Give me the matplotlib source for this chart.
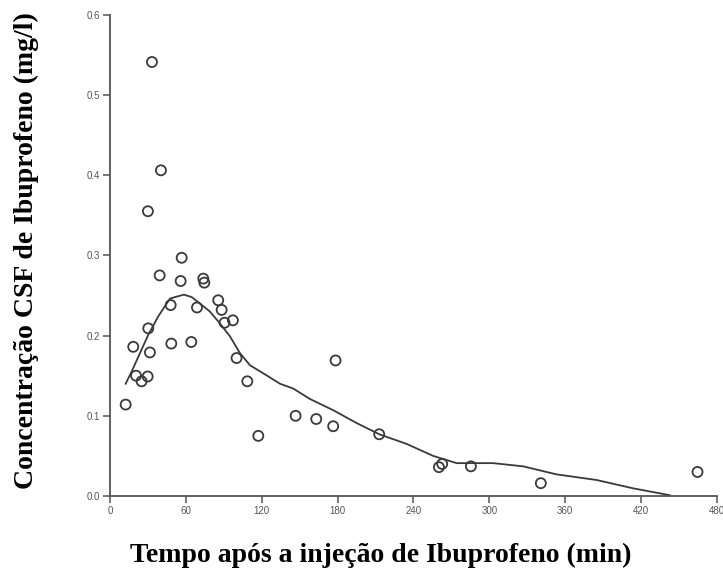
import matplotlib
matplotlib.use("Agg")
import matplotlib.pyplot as plt

# Observed CSF ibuprofen concentrations
time_min = [12.4, 18.4, 20.6, 25.0, 29.8, 30.3, 31.6, 39.3, 48.0, 48.5,
            55.9, 56.7, 64.3, 68.8, 73.8, 74.6, 85.6, 88.3, 90.6, 97.2,
            100.1, 108.6, 117.3, 146.8, 33.2, 40.3, 30.0, 163.1, 176.5,
            178.4, 212.9, 260.1, 262.7, 285.4, 340.7, 464.6]
conc_mg_l = [0.114, 0.186, 0.150, 0.143, 0.149, 0.209, 0.179, 0.275, 0.238, 0.190,
             0.268, 0.297, 0.192, 0.235, 0.271, 0.266, 0.244, 0.232, 0.216, 0.219,
             0.172, 0.143, 0.075, 0.100, 0.541, 0.406, 0.355, 0.096, 0.087,
             0.169, 0.077, 0.036, 0.040, 0.037, 0.016, 0.030]

# Smoothed trend
trend_time = [12.4, 17.1, 23.7, 30.3, 38.2, 47.4, 51.4, 58.5, 64.6, 71.1,
              79.0, 87.0, 94.9, 102.8, 110.7, 121.2, 134.4, 144.9, 158.1,
              176.5, 195.0, 212.9, 234.5, 255.6, 274.1, 303.0, 326.7, 353.1,
              384.7, 413.7, 442.7]
trend_conc = [0.140, 0.155, 0.178, 0.201, 0.224, 0.246, 0.248, 0.251, 0.248, 0.240,
              0.230, 0.215, 0.199, 0.178, 0.163, 0.153, 0.140, 0.134, 0.121,
              0.107, 0.091, 0.077, 0.065, 0.050, 0.041, 0.041, 0.037, 0.027,
              0.020, 0.0096, 0.001]

x_ticks = [0, 60, 120, 180, 240, 300, 360, 420, 480]
y_ticks = [0.0, 0.1, 0.2, 0.3, 0.4, 0.5, 0.6]

fig = plt.figure(figsize=(7.23, 5.71), dpi=100)
ax = fig.add_axes([0.1521, 0.1313, 0.8396, 0.8430])

ink = "#3a3a3a"
ax.plot(trend_time, trend_conc, color=ink, lw=1.3, zorder=2)
ax.scatter(time_min, conc_mg_l, s=52, facecolors="none", edgecolors=ink,
           linewidths=1.3, zorder=3, clip_on=False)

ax.set_xlim(0, 480)
ax.set_ylim(0, 0.6)
ax.set_xticks(x_ticks)
ax.set_yticks(y_ticks)
ax.set_xticklabels([str(t) for t in x_ticks])
ax.set_yticklabels([f"{v:.1f}" for v in y_ticks])

for side in ("top", "right"):
    ax.spines[side].set_visible(False)
for side in ("left", "bottom"):
    ax.spines[side].set_color("#555555")
    ax.spines[side].set_linewidth(1.3)

ax.tick_params(direction="out", length=5, width=1.1, color="#555555",
               labelsize=7, labelcolor="#555555", pad=2)
for lbl in ax.get_xticklabels() + ax.get_yticklabels():
    lbl.set_family("Liberation Sans")

serif = ["Liberation Serif", "DejaVu Serif"]
fig.text(0.527, 0.049, "Tempo após a injeção de Ibuprofeno (min)",
         ha="center", va="top", fontsize=20, fontweight="bold",
         family=serif)
fig.text(0.037, 0.562, "Concentração CSF de Ibuprofeno (mg/l)",
         ha="center", va="center", rotation=90, fontsize=20,
         fontweight="bold", family=serif)

fig.savefig("out.png", dpi=100)
